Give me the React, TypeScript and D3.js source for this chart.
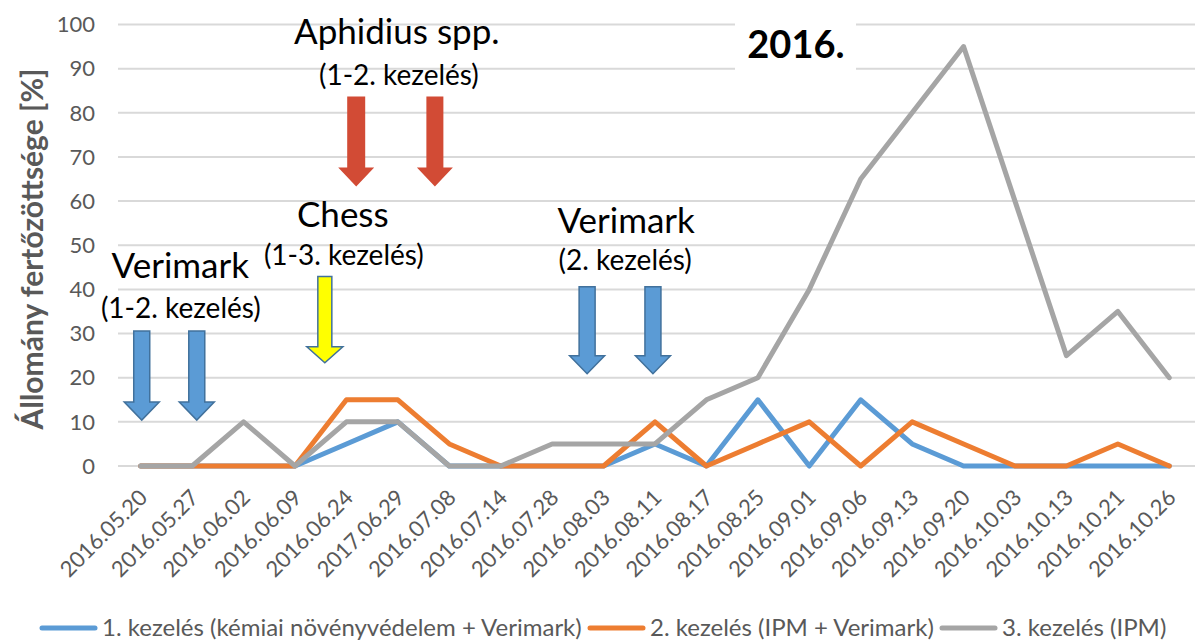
import * as d3 from 'd3'

const dates = [
  '2016.05.20', '2016.05.27', '2016.06.02', '2016.06.09', '2016.06.24',
  '2017.06.29', '2016.07.08', '2016.07.14', '2016.07.28', '2016.08.03',
  '2016.08.11', '2016.08.17', '2016.08.25', '2016.09.01', '2016.09.06',
  '2016.09.13', '2016.09.20', '2016.10.03', '2016.10.13', '2016.10.21',
  '2016.10.26',
]
const kezeles1 = [0, 0, 0, 0, 5, 10, 0, 0, 0, 0, 5, 0, 15, 0, 15, 5, 0, 0, 0, 0, 0]
const kezeles2 = [0, 0, 0, 0, 15, 15, 5, 0, 0, 0, 10, 0, 5, 10, 0, 10, 5, 0, 0, 5, 0]
const kezeles3 = [0, 0, 10, 0, 10, 10, 0, 0, 5, 5, 5, 15, 20, 40, 65, 80, 95, 60, 25, 35, 20]
const yTicks = [0, 10, 20, 30, 40, 50, 60, 70, 80, 90, 100]
const seriesNames = [
  '1. kezelés (kémiai növényvédelem + Verimark)',
  '2. kezelés (IPM + Verimark)',
  '3. kezelés (IPM)',
]
const seriesColors = ['#5B9BD5', '#ED7D31', '#A5A5A5']

// arrows: category index (fractional), from value -> to value
const arrows = [
  { at: 0.02, from: 30.6, to: 10.4, fill: '#5B9BD5', stroke: '#41719C', w: 16, hw: 35, hl: 18 },
  { at: 1.09, from: 30.6, to: 10.4, fill: '#5B9BD5', stroke: '#41719C', w: 16, hw: 35, hl: 18 },
  { at: 3.58, from: 42.9, to: 23.4, fill: '#FFFF00', stroke: '#41719C', w: 14, hw: 36, hl: 16 },
  { at: 4.19, from: 83.7, to: 63.3, fill: '#D24B35', stroke: 'none', w: 18, hw: 36, hl: 19 },
  { at: 5.72, from: 83.7, to: 63.3, fill: '#D24B35', stroke: 'none', w: 17, hw: 36, hl: 19 },
  { at: 8.68, from: 40.6, to: 20.9, fill: '#5B9BD5', stroke: '#41719C', w: 16, hw: 35, hl: 18 },
  { at: 9.96, from: 40.6, to: 20.9, fill: '#5B9BD5', stroke: '#41719C', w: 16, hw: 35, hl: 18 },
]

const notes = [
  { at: 4.98, v: 95.5, text: 'Aphidius spp.', big: true },
  { at: 5.02, v: 86.4, text: '(1-2. kezelés)', big: false },
  { at: 3.93, v: 54.2, text: 'Chess', big: true },
  { at: 3.95, v: 45.6, text: '(1-3. kezelés)', big: false },
  { at: 0.77, v: 42.6, text: 'Verimark', big: true },
  { at: 0.78, v: 33.6, text: '(1-2. kezelés)', big: false },
  { at: 9.44, v: 52.8, text: 'Verimark', big: true },
  { at: 9.42, v: 44.4, text: '(2. kezelés)', big: false },
]

const W = 1195
const H = 642
const left = 115
const right = 1195
const font = 'Lato, "Open Sans", sans-serif'

const App = () => {
  const x = d3.scalePoint().domain(dates).range([left, right]).padding(0.5)
  const y = d3.scaleLinear().domain([0, 100]).range([466, 24.5])
  const step = x.step()
  const xAt = (i) => (x(dates[0]) as number) + i * step

  const line = d3
    .line<number>()
    .x((_, i) => x(dates[i]) as number)
    .y((d) => y(d))

  const series = [kezeles1, kezeles2, kezeles3]

  const arrowPath = (a) => {
    const cx = xAt(a.at)
    const top = y(a.from)
    const tip = y(a.to)
    const hs = tip - a.hl
    return `M${cx - a.w / 2},${top} L${cx + a.w / 2},${top} L${cx + a.w / 2},${hs} L${cx + a.hw / 2},${hs} L${cx},${tip} L${cx - a.hw / 2},${hs} L${cx - a.w / 2},${hs} Z`
  }

  const legendX = [42, 590, 942]

  return (
    <svg
      width={W}
      height={H}
      style={{ position: 'absolute', left: 0, top: 0, background: '#fff' }}
      fontFamily={font}
    >
      {/* gridlines */}
      {yTicks.map((t) => (
        <line key={t} x1={118} x2={right} y1={y(t)} y2={y(t)} stroke="#D9D9D9" strokeWidth={2} />
      ))}
      {yTicks.map((t) => (
        <text key={t} x={95} y={y(t)} dy="0.35em" textAnchor="end" fontSize={22} fill="#595959">
          {t}
        </text>
      ))}

      {/* year box */}
      <rect x={735} y={12} width={121} height={68} fill="#fff" />
      <text x={xAt(12.74)} y={y(92.5)} textAnchor="middle" fontSize={38} fontWeight="bold" fill="#000">
        2016.
      </text>

      {/* x labels */}
      {dates.map((d) => (
        <text
          key={d}
          transform={`translate(${(x(d) as number) + 8},${499}) rotate(-45)`}
          textAnchor="end"
          fontSize={22}
          fill="#595959"
        >
          {d}
        </text>
      ))}

      {/* series */}
      {series.map((s, i) => (
        <path
          key={i}
          d={line(s) as string}
          fill="none"
          stroke={seriesColors[i]}
          strokeWidth={5}
          strokeLinejoin="round"
          strokeLinecap="round"
        />
      ))}

      {/* arrows */}
      {arrows.map((a, i) => (
        <path key={i} d={arrowPath(a)} fill={a.fill} stroke={a.stroke} strokeWidth={1.5} />
      ))}

      {/* notes */}
      {notes.map((n, i) => (
        <text
          key={i}
          x={xAt(n.at)}
          y={y(n.v)}
          textAnchor="middle"
          fontSize={n.big ? 35 : 28}
          fill="#000"
        >
          {n.text}
        </text>
      ))}

      {/* y axis title */}
      <text
        transform={`translate(43,${249}) rotate(-90)`}
        textAnchor="middle"
        fontSize={30}
        fontWeight="bold"
        fill="#595959"
      >
        Állomány fertőzöttsége [%]
      </text>

      {/* legend */}
      {seriesNames.map((n, i) => (
        <g key={n} transform={`translate(${legendX[i]},628)`}>
          <line x1={0} x2={53} y1={0} y2={0} stroke={seriesColors[i]} strokeWidth={5} strokeLinecap="round" />
          <text x={60} y={0} dy="0.35em" fontSize={24} fill="#595959">
            {n}
          </text>
        </g>
      ))}
    </svg>
  )
}

export default App
